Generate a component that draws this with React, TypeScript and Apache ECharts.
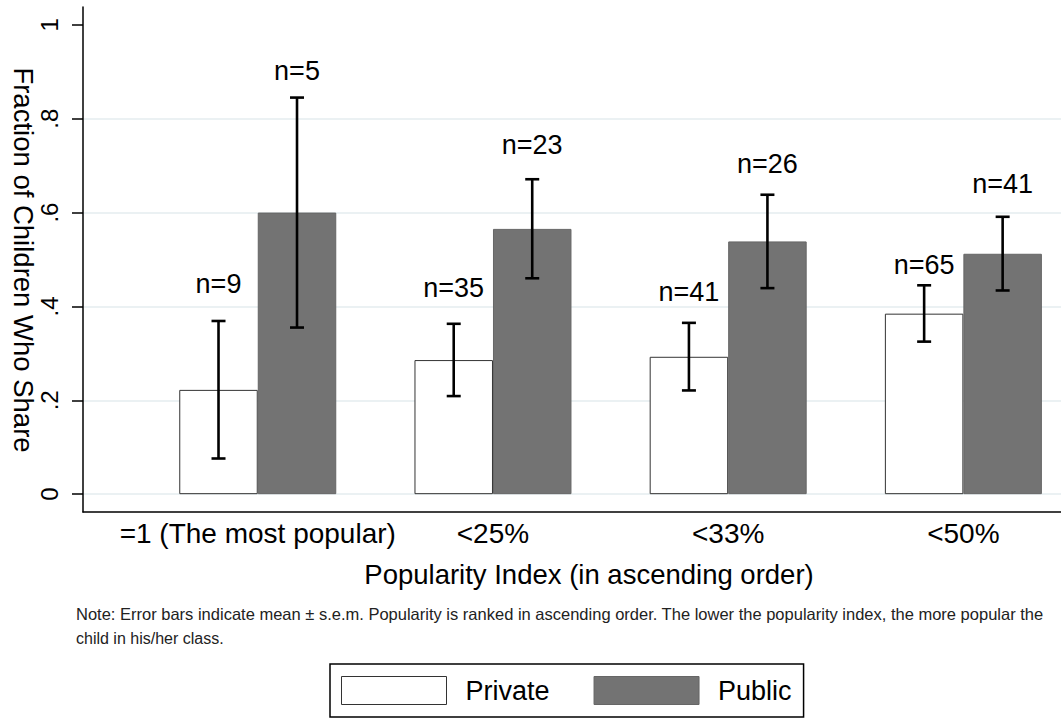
import React, { useEffect, useRef } from "react";
import * as echarts from "echarts";

const categories = ["=1 (The most popular)", "<25%", "<33%", "<50%"];
const groupPositions = [1, 2, 3, 4];
const privateMean = [0.2222, 0.2857, 0.2927, 0.3846];
const privateLow = [0.076, 0.209, 0.221, 0.325];
const privateHigh = [0.369, 0.363, 0.365, 0.445];
const publicMean = [0.6, 0.5652, 0.5385, 0.5122];
const publicLow = [0.355, 0.46, 0.439, 0.434];
const publicHigh = [0.845, 0.671, 0.638, 0.591];
const privateN = [9, 35, 41, 65];
const publicN = [5, 23, 26, 41];
const privateLabelY = [0.447, 0.44, 0.431, 0.489];
const publicLabelY = [0.901, 0.744, 0.704, 0.66];
const yTicks = [0, 0.2, 0.4, 0.6, 0.8, 1];
const gridValues = [0, 0.2, 0.4, 0.6, 0.8];

const FONT = "'Liberation Sans', Arial, Helvetica, sans-serif";
const BAR_W = 78.5;

export default function App() {
  const ref = useRef<HTMLDivElement>(null);
  useEffect(() => {
    if (!ref.current) return;
    const chart = echarts.init(ref.current, null, { renderer: "svg" });

    const errRender = (offsetSign: number) => (params: any, api: any) => {
      const x = api.value(0);
      const lo = api.coord([x, api.value(1)]);
      const hi = api.coord([x, api.value(2)]);
      const cx = lo[0] + offsetSign * BAR_W / 2;
      const cap = 7;
      const style = { stroke: "#000", lineWidth: 2.6 };
      return {
        type: "group",
        children: [
          { type: "line", shape: { x1: cx, y1: lo[1], x2: cx, y2: hi[1] }, style },
          { type: "line", shape: { x1: cx - cap, y1: hi[1], x2: cx + cap, y2: hi[1] }, style },
          { type: "line", shape: { x1: cx - cap, y1: lo[1], x2: cx + cap, y2: lo[1] }, style },
        ],
      };
    };

    const labelRender = (offsetSign: number) => (params: any, api: any) => {
      const p = api.coord([api.value(0), api.value(1)]);
      return {
        type: "text",
        style: {
          text: "n=" + api.value(2),
          x: p[0] + offsetSign * BAR_W / 2,
          y: p[1],
          textAlign: "center",
          textVerticalAlign: "middle",
          fontSize: 27,
          fontFamily: FONT,
          fill: "#000",
        },
      };
    };

    const option: any = {
      animation: false,
      backgroundColor: "#fff",
      grid: { left: 83, top: 7, right: 0, bottom: 207, containLabel: false },
      xAxis: {
        type: "value",
        min: 0.257,
        max: 4.415,
        axisLine: { show: true, onZero: false, lineStyle: { color: "#000", width: 1.5 } },
        axisTick: { show: false, customValues: groupPositions },
        splitLine: { show: false },
        axisLabel: {
          customValues: groupPositions,
          formatter: (v: number) => categories[Math.round(v) - 1] ?? "",
          fontSize: 28,
          fontFamily: FONT,
          color: "#000",
          margin: 7,
        },
      },
      yAxis: {
        type: "value",
        min: -0.038,
        max: 1.038,
        axisLine: { show: true, onZero: false, lineStyle: { color: "#000", width: 1.5 } },
        axisTick: { show: true, length: 11, customValues: yTicks, lineStyle: { color: "#000", width: 1.5 } },
        splitLine: { show: false },
        axisLabel: {
          customValues: yTicks,
          rotate: 90,
          formatter: (v: number) => (v === 0 ? "0" : v === 1 ? "1" : String(v).replace(/^0/, "")),
          fontSize: 24,
          fontFamily: FONT,
          color: "#000",
          margin: 22,
        },
      },
      legend: {
        left: 330,
        top: 664,
        orient: "horizontal",
        icon: "rect",
        itemWidth: 105,
        itemHeight: 28,
        itemGap: 44,
        padding: [12, 12, 12, 11],
        borderColor: "#000",
        borderWidth: 1.5,
        textStyle: { fontSize: 27, fontFamily: FONT, color: "#000", padding: [0, 0, 0, 14] },
        data: [
          { name: "Private", itemStyle: { color: "#fff", borderColor: "#333", borderWidth: 1 } },
          { name: "Public", itemStyle: { color: "#737373", borderColor: "#666", borderWidth: 1 } },
        ],
      },
      graphic: [
        {
          type: "text",
          x: 23,
          y: 260,
          rotation: -Math.PI / 2,
          style: {
            text: "Fraction of Children Who Share",
            textAlign: "center",
            textVerticalAlign: "middle",
            fontSize: 27.5,
            fontFamily: FONT,
            fill: "#000",
          },
        },
        {
          type: "text",
          x: 589,
          y: 574,
          style: {
            text: "Popularity Index (in ascending order)",
            textAlign: "center",
            textVerticalAlign: "middle",
            fontSize: 27.5,
            fontFamily: FONT,
            fill: "#000",
          },
        },
        {
          type: "text",
          x: 76,
          y: 614,
          style: {
            text:
              "Note: Error bars indicate mean \u00b1 s.e.m. Popularity is ranked in ascending order. The lower the popularity index, the more popular the",
            textAlign: "left",
            textVerticalAlign: "middle",
            fontSize: 16.5,
            fontFamily: FONT,
            fill: "#222",
          },
        },
        {
          type: "text",
          x: 76,
          y: 638,
          style: {
            text: "child in his/her class.",
            textAlign: "left",
            textVerticalAlign: "middle",
            fontSize: 16,
            fontFamily: FONT,
            fill: "#222",
          },
        },
      ],
      series: [
        {
          name: "Private",
          type: "bar",
          barWidth: BAR_W,
          barGap: "0%",
          z: 2,
          itemStyle: { color: "#fff", borderColor: "#333", borderWidth: 1 },
          data: groupPositions.map((x, i) => [x, privateMean[i]]),
          markLine: {
            silent: true,
            z: 0,
            symbol: ["none", "none"],
            label: { show: false },
            lineStyle: { color: "#e4ecef", width: 1.5, type: "solid" },
            data: gridValues.map((v) => ({ yAxis: v })),
          },
        },
        {
          name: "Public",
          type: "bar",
          barWidth: BAR_W,
          barGap: "0%",
          z: 2,
          itemStyle: { color: "#737373", borderColor: "#666", borderWidth: 1 },
          data: groupPositions.map((x, i) => [x, publicMean[i]]),
        },
        {
          type: "custom",
          z: 3,
          renderItem: errRender(-1),
          data: groupPositions.map((x, i) => [x, privateLow[i], privateHigh[i]]),
        },
        {
          type: "custom",
          z: 3,
          renderItem: errRender(1),
          data: groupPositions.map((x, i) => [x, publicLow[i], publicHigh[i]]),
        },
        {
          type: "custom",
          z: 3,
          renderItem: labelRender(-1),
          data: groupPositions.map((x, i) => [x, privateLabelY[i], privateN[i]]),
        },
        {
          type: "custom",
          z: 3,
          renderItem: labelRender(1),
          data: groupPositions.map((x, i) => [x, publicLabelY[i], publicN[i]]),
        },
      ],
    };
    chart.setOption(option);
    return () => chart.dispose();
  }, []);

  return (
    <div
      ref={ref}
      style={{ position: "fixed", left: 0, top: 0, width: 1061, height: 719, background: "#fff" }}
    />
  );
}
